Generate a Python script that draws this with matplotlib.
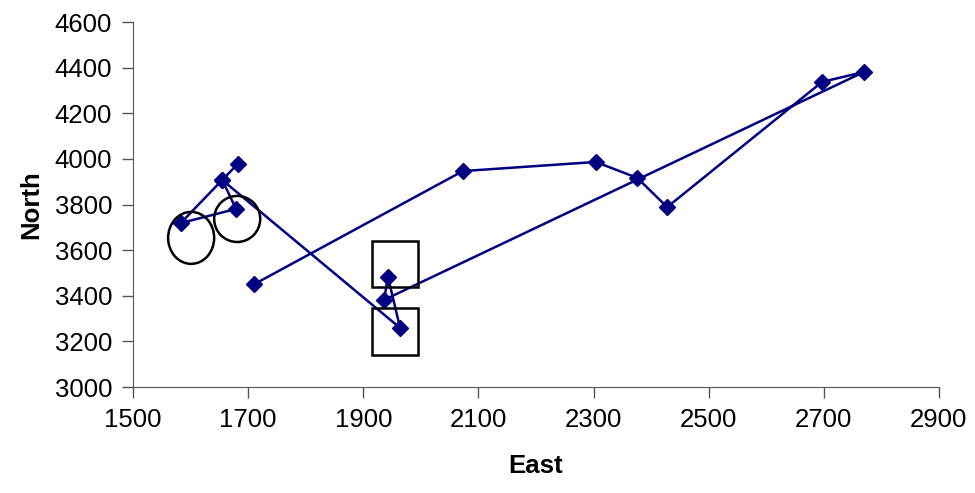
import matplotlib
matplotlib.use("Agg")
import matplotlib.pyplot as plt
from matplotlib.patches import Ellipse, Rectangle

plt.rcParams['font.family'] = ['Liberation Sans', 'DejaVu Sans']

# Path of survey points (in drawing order)
east = [1682, 1655, 1583, 1679, 1655, 1964, 1943, 1936, 2770, 2697, 2428, 2376, 2304, 2073, 1710]
north = [3978, 3908, 3719, 3781, 3908, 3259, 3482, 3382, 4382, 4338, 3789, 3917, 3987, 3947, 3450]

# Annotation shapes (center_x, center_y, width, height)
ellipses = [(1601, 3654, 80, 228), (1681, 3737, 80, 202)]
# rectangles (x0, y0, width, height)
rects = [(1915, 3439, 80, 201), (1915, 3140, 80, 206)]

xticks = [1500, 1700, 1900, 2100, 2300, 2500, 2700, 2900]
yticks = [3000, 3200, 3400, 3600, 3800, 4000, 4200, 4400, 4600]

fig = plt.figure(figsize=(9.75, 4.93), dpi=100)
ax = fig.add_axes([0.1364, 0.215, 0.963 - 0.1364, 0.955 - 0.215])

ax.plot(east, north, color='#000080', linewidth=1.8, marker='D', markersize=8.5,
        markerfacecolor='#000080', markeredgecolor='#000080', zorder=3)

for cx, cy, w, h in ellipses:
    ax.add_patch(Ellipse((cx, cy), w, h, fill=False, edgecolor='black', linewidth=1.8, zorder=4))
for x0, y0, w, h in rects:
    ax.add_patch(Rectangle((x0, y0), w, h, fill=False, edgecolor='black', linewidth=1.8, zorder=4))

ax.set_xlim(1500, 2900)
ax.set_ylim(3000, 4600)
ax.set_xticks(xticks)
ax.set_yticks(yticks)
ax.tick_params(axis='both', direction='out', length=8, width=1, color='#555555',
               labelsize=18.5, pad=7)
ax.spines['top'].set_visible(False)
ax.spines['right'].set_visible(False)
ax.spines['left'].set_color('#555555')
ax.spines['bottom'].set_color('#555555')

ax.set_xlabel('East', fontsize=18.5, fontweight='bold', labelpad=16)
ax.set_ylabel('North', fontsize=18.5, fontweight='bold', labelpad=8)

fig.savefig('out.png', dpi=100)
